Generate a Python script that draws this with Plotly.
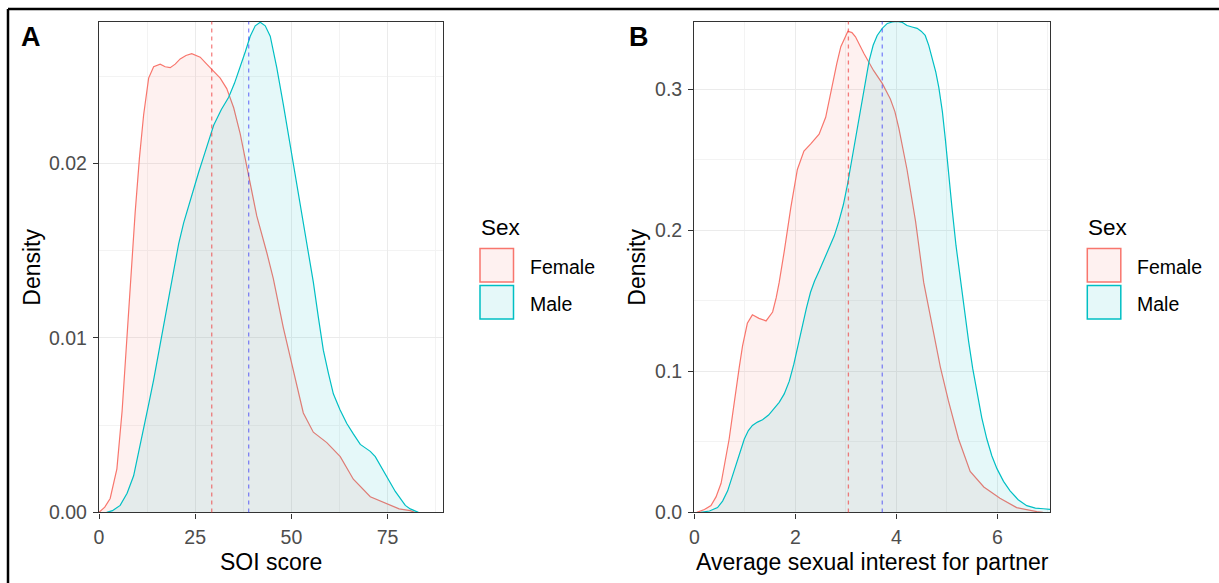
import plotly.graph_objects as go

# ---------------- data ----------------
sex_levels = ["Female", "Male"]

soi_female_x = [0, 1.5, 2.9, 4.65, 6.0, 7.25, 8.3, 9.4, 10.5, 11.6, 12.9, 14.2, 15.9, 17.2, 18.5,
                19.8, 21.1, 22.6, 24.1, 25.3, 26.3, 28.0, 29.3, 31.5, 33.2, 35.0, 36.7, 38.4, 41.0,
                43.6, 45.3, 47.9, 50.5, 53.1, 55.7, 57.5, 59.2, 62.7, 66.1, 70.5, 74.8, 78.0, 80.9, 82.0]
soi_female_y = [0, 0.0003, 0.0008, 0.0025, 0.0058, 0.0102, 0.0138, 0.0172, 0.0203, 0.0228, 0.0249,
                0.02555, 0.0257, 0.02555, 0.0255, 0.0257, 0.0260, 0.0262, 0.0263, 0.0262, 0.0261,
                0.0257, 0.0254, 0.0249, 0.0243, 0.0232, 0.0217, 0.0198, 0.0170, 0.0149, 0.0134,
                0.0106, 0.0081, 0.0057, 0.0046, 0.0043, 0.0040, 0.0032, 0.0019, 0.0009, 0.0005,
                0.0002, 0.0001, 0]

soi_male_x = [2.0, 3.5, 5.5, 7.3, 9.0, 10.3, 11.6, 12.9, 14.2, 15.5, 16.8, 18.1, 19.4, 20.7, 22.0,
              23.3, 24.6, 25.9, 27.2, 28.5, 29.8, 31.8, 33.7, 35.2, 36.7, 38.0, 39.3, 40.6, 41.9,
              43.2, 44.5, 46.2, 47.9, 49.2, 50.5, 51.8, 53.1, 54.4, 55.7, 57.0, 58.3, 59.6, 60.9,
              62.6, 64.4, 66.1, 67.9, 69.2, 70.5, 71.8, 73.1, 74.4, 75.7, 77.0, 78.3, 79.6, 80.9, 83.0]
soi_male_y = [0, 0.0001, 0.0004, 0.0011, 0.0021, 0.0034, 0.0049, 0.0062, 0.0076, 0.0092, 0.0108,
              0.0124, 0.0140, 0.0154, 0.0166, 0.0176, 0.0185, 0.0195, 0.0204, 0.0213, 0.0222,
              0.0231, 0.0238, 0.0246, 0.0255, 0.0264, 0.0273, 0.0279, 0.0281, 0.0279, 0.0273,
              0.0255, 0.0234, 0.0217, 0.0200, 0.0184, 0.0168, 0.0150, 0.0132, 0.0112, 0.0093,
              0.0080, 0.0068, 0.0059, 0.0051, 0.0045, 0.0039, 0.0037, 0.0035, 0.0032, 0.0027,
              0.0022, 0.0017, 0.0012, 0.0008, 0.0004, 0.0002, 0]

int_female_x = [0.05, 0.2, 0.33, 0.43, 0.53, 0.61, 0.69, 0.76, 0.82, 0.89, 0.955, 1.05, 1.15, 1.28,
                1.42, 1.55, 1.62, 1.68, 1.78, 1.91, 2.04, 2.17, 2.30, 2.47, 2.60, 2.73, 2.82, 2.90,
                3.04, 3.12, 3.19, 3.36, 3.55, 3.72, 3.88, 3.97, 4.05, 4.21, 4.38, 4.54, 4.71, 4.87,
                5.03, 5.23, 5.46, 5.73, 6.05, 6.38, 6.78, 6.9]
int_female_y = [0, 0.002, 0.0048, 0.011, 0.0206, 0.035, 0.052, 0.070, 0.087, 0.103, 0.118, 0.134,
                0.140, 0.1375, 0.1357, 0.142, 0.152, 0.163, 0.185, 0.216, 0.243, 0.256, 0.261,
                0.268, 0.280, 0.304, 0.318, 0.330, 0.341, 0.340, 0.337, 0.325, 0.313, 0.304, 0.293,
                0.284, 0.272, 0.243, 0.206, 0.163, 0.132, 0.103, 0.079, 0.052, 0.029, 0.018, 0.010,
                0.0034, 0.0005, 0]

int_male_x = [0.13, 0.3, 0.46, 0.56, 0.66, 0.74, 0.82, 0.9, 0.99, 1.07, 1.15, 1.25, 1.35, 1.47, 1.58,
              1.68, 1.78, 1.88, 1.97, 2.05, 2.14, 2.22, 2.30, 2.38, 2.47, 2.57, 2.67, 2.77, 2.86,
              2.95, 3.03, 3.11, 3.19, 3.26, 3.32, 3.39, 3.46, 3.54, 3.62, 3.72, 3.82, 3.92, 4.02,
              4.12, 4.21, 4.31, 4.41, 4.49, 4.57, 4.64, 4.71, 4.78, 4.84, 4.91, 4.97, 5.03, 5.10,
              5.18, 5.27, 5.35, 5.43, 5.51, 5.60, 5.69, 5.79, 5.89, 5.99, 6.12, 6.25, 6.41, 6.58,
              6.75, 6.91, 7.1]
int_male_y = [0, 0.001, 0.0034, 0.008, 0.0153, 0.024, 0.034, 0.043, 0.052, 0.058, 0.0616, 0.064,
              0.0656, 0.069, 0.0735, 0.078, 0.084, 0.093, 0.105, 0.118, 0.132, 0.145, 0.156, 0.164,
              0.171, 0.179, 0.187, 0.196, 0.206, 0.218, 0.232, 0.248, 0.264, 0.279, 0.293, 0.307,
              0.320, 0.331, 0.338, 0.343, 0.3465, 0.3475, 0.348, 0.3472, 0.345, 0.344, 0.343,
              0.341, 0.338, 0.331, 0.322, 0.312, 0.301, 0.284, 0.264, 0.240, 0.216, 0.189, 0.163,
              0.141, 0.121, 0.102, 0.084, 0.067, 0.052, 0.040, 0.031, 0.022, 0.0153, 0.009,
              0.0048, 0.003, 0.0026, 0.002]

soi_means = [29.3, 38.9]          # Female, Male
int_means = [3.05, 3.72]          # Female, Male

soi_ticks = [0, 25, 50, 75]
soi_dens_ticks = [0.00, 0.01, 0.02]
soi_dens_labels = ["0.00", "0.01", "0.02"]
int_ticks = [0, 2, 4, 6]
int_dens_ticks = [0.0, 0.1, 0.2, 0.3]
int_dens_labels = ["0.0", "0.1", "0.2", "0.3"]

x_titles = ["SOI score", "Average sexual interest for partner"]
y_title = "Density"
panel_tags = ["A", "B"]
legend_title = "Sex"

# ---------------- styling ----------------
W, H = 1219, 583
RED = "#F8766D"
CYAN = "#00BFC4"
RED_FILL = "rgba(248,118,109,0.1)"
CYAN_FILL = "rgba(0,191,196,0.1)"
MEAN_COLORS = ["rgba(240,60,60,0.65)", "rgba(40,40,250,0.55)"]
FONT = "Liberation Sans, Arial, sans-serif"


def px(x):
    return x / W


def py(y):
    return 1 - y / H


fig = go.Figure()

panels = [
    ("x", "y", soi_female_x, soi_female_y, soi_male_x, soi_male_y, soi_means),
    ("x2", "y2", int_female_x, int_female_y, int_male_x, int_male_y, int_means),
]
for xa, ya, fx, fy, mx, my, means in panels:
    fig.add_trace(go.Scatter(x=fx, y=fy, mode="lines", fill="tozeroy", fillcolor=RED_FILL,
                             line=dict(color=RED, width=1.2), name="Female",
                             xaxis=xa, yaxis=ya, showlegend=False, hoverinfo="skip"))
    fig.add_trace(go.Scatter(x=mx, y=my, mode="lines", fill="tozeroy", fillcolor=CYAN_FILL,
                             line=dict(color=CYAN, width=1.2), name="Male",
                             xaxis=xa, yaxis=ya, showlegend=False, hoverinfo="skip"))
    for m, c in zip(means, MEAN_COLORS):
        fig.add_shape(type="line", xref=xa, yref=ya + " domain", x0=m, x1=m, y0=0, y1=1,
                      line=dict(color=c, width=1.3, dash="4px,4px"))

axis_common = dict(
    showline=True, mirror=True, linecolor="#333333", linewidth=1.4,
    ticks="outside", ticklen=5, tickwidth=1.1, tickcolor="#333333",
    showgrid=True, gridcolor="#EBEBEB", gridwidth=1.1, zeroline=False,
    tickfont=dict(family=FONT, size=19.5, color="#4D4D4D"),
    ticklabelstandoff=2, automargin=False,
)
title_font = dict(family=FONT, size=23, color="#000000")

PLOT_TOP, PLOT_BOTTOM = 21.6, 512.4
PANEL_X = [(99.0, 443.0), (694.3, 1050.0)]
ydom = [py(PLOT_BOTTOM), py(PLOT_TOP)]

fig.update_layout(
    width=W, height=H, margin=dict(l=0, r=0, t=0, b=0, autoexpand=False), autosize=False,
    paper_bgcolor="white", plot_bgcolor="white", showlegend=False,
    xaxis=dict(axis_common, domain=[px(PANEL_X[0][0]), px(PANEL_X[0][1])], range=[0, 89.4],
               tickvals=soi_ticks,
               minor=dict(dtick=12.5, tick0=0, showgrid=True, gridcolor="#F3F3F3", gridwidth=1, ticks=""),
               anchor="y"),
    yaxis=dict(axis_common, domain=ydom, range=[0, 0.02814], tickvals=soi_dens_ticks,
               ticktext=soi_dens_labels,
               minor=dict(dtick=0.005, tick0=0, showgrid=True, gridcolor="#F3F3F3", gridwidth=1, ticks=""),
               anchor="x"),
    xaxis2=dict(axis_common, domain=[px(PANEL_X[1][0]), px(PANEL_X[1][1])], range=[0, 7.04],
                tickvals=int_ticks,
                minor=dict(dtick=1, tick0=0, showgrid=True, gridcolor="#F3F3F3", gridwidth=1, ticks=""),
                anchor="y2"),
    yaxis2=dict(axis_common, domain=ydom, range=[0, 0.3478], tickvals=int_dens_ticks,
                ticktext=int_dens_labels,
                minor=dict(dtick=0.05, tick0=0, showgrid=True, gridcolor="#F3F3F3", gridwidth=1, ticks=""),
                anchor="x2"),
)

# axis titles, panel tags, legends
y_title_x = [31.7, 636.7]
tag_x = [19.0, 626.5]
legend_x = [480.0, 1087.3]
legend_items = [(sex_levels[0], RED, RED_FILL, 248.5), (sex_levels[1], CYAN, CYAN_FILL, 285.5)]

for i in range(2):
    x0, x1 = PANEL_X[i]
    fig.add_annotation(text=x_titles[i], x=px((x0 + x1) / 2), y=py(561.5), xref="paper", yref="paper",
                       xanchor="center", yanchor="middle", showarrow=False, font=title_font)
    fig.add_annotation(text=y_title, x=px(y_title_x[i]), y=py((PLOT_TOP + PLOT_BOTTOM) / 2),
                       xref="paper", yref="paper", xanchor="center", yanchor="middle",
                       textangle=-90, showarrow=False, font=title_font)
    fig.add_annotation(text="<b>%s</b>" % panel_tags[i], x=px(tag_x[i]), y=py(37), xref="paper",
                       yref="paper", xanchor="left", yanchor="middle", showarrow=False,
                       font=dict(family=FONT, size=27, color="#000000"))
    lx = legend_x[i]
    fig.add_annotation(text=legend_title, x=px(lx - 1), y=py(227.5), xref="paper", yref="paper",
                       xanchor="left", yanchor="middle", showarrow=False,
                       font=dict(family=FONT, size=22.5, color="#000000"))
    for label, col, fillc, ytop in legend_items:
        fig.add_shape(type="rect", xref="paper", yref="paper",
                      x0=px(lx), x1=px(lx + 33.5), y0=py(ytop), y1=py(ytop + 33.5),
                      fillcolor=fillc, line=dict(color=col, width=1.5))
        fig.add_annotation(text=label, x=px(lx + 47.5), y=py(ytop + 18), xref="paper", yref="paper",
                           xanchor="left", yanchor="middle", showarrow=False,
                           font=dict(family=FONT, size=19.5, color="#000000"))

# outer frame (top and left edges)
fig.add_shape(type="line", xref="paper", yref="paper", x0=px(8), x1=1, y0=py(9), y1=py(9),
              line=dict(color="black", width=2.5))
fig.add_shape(type="line", xref="paper", yref="paper", x0=px(8), x1=px(8), y0=py(9), y1=0,
              line=dict(color="black", width=2.5))

page_css = ("var s=document.createElement('style');"
            "s.textContent='html,body{margin:0!important;padding:0!important;overflow:hidden!important;}';"
            "document.head.appendChild(s);")
fig.write_html("out.html", config={"displayModeBar": False, "responsive": False},
               post_script=page_css)
